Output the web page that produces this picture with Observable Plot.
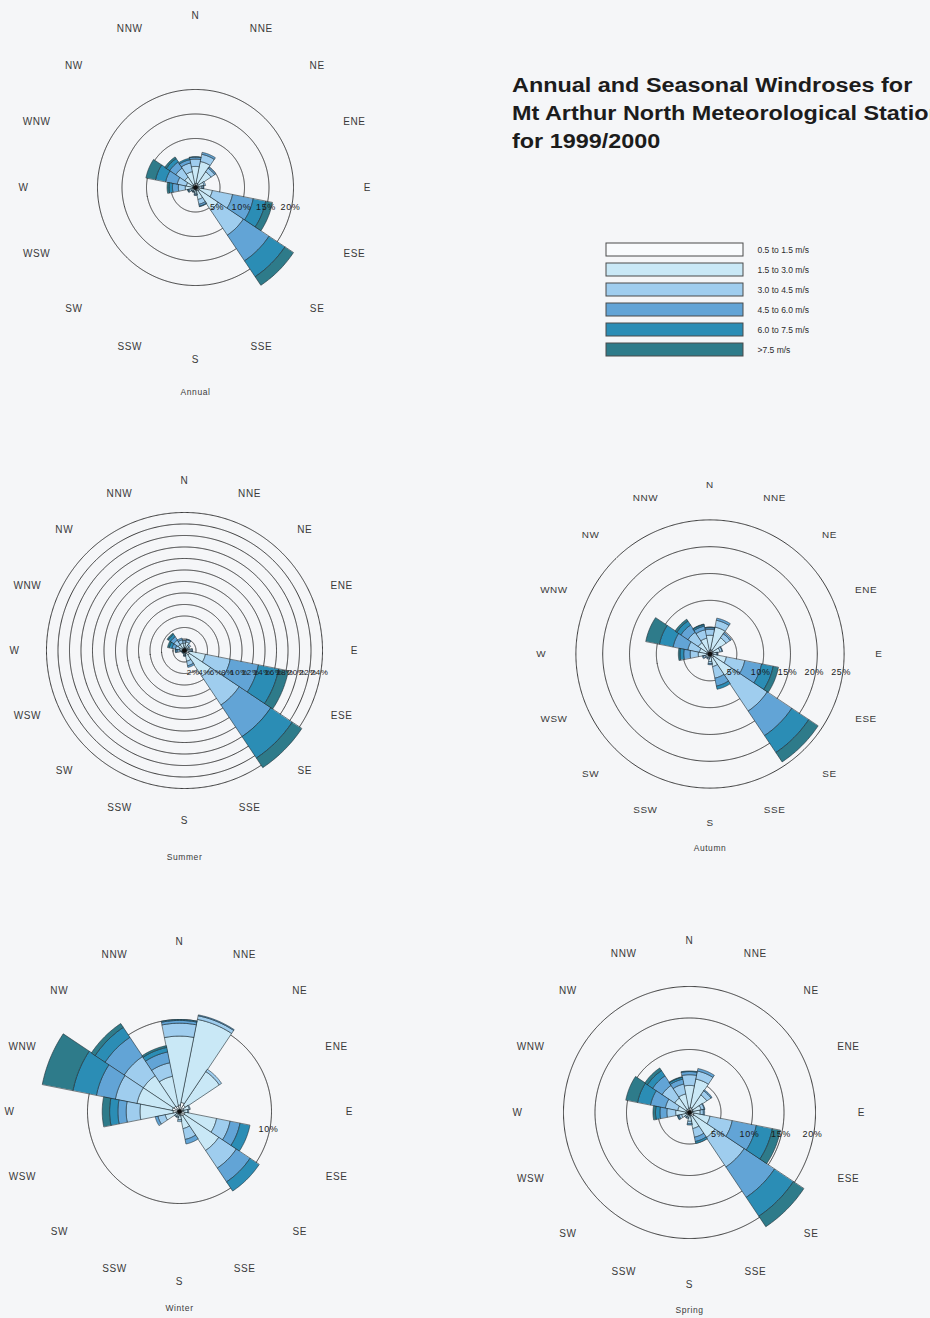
<!DOCTYPE html>
<html>
<head>
<meta charset="utf-8">
<script src="https://cdn.jsdelivr.net/npm/d3@7"></script>
<script src="https://cdn.jsdelivr.net/npm/@observablehq/plot@0.6"></script>
<style>
  html, body { margin: 0; padding: 0; background: #f5f6f8; }
  #page { position: relative; width: 930px; height: 1318px; overflow: hidden; font-family: "Liberation Sans", Arial, sans-serif; }
  .slot { position: absolute; }
  #title { position: absolute; left: 512px; top: 71px; font-size: 20px; line-height: 28px; font-weight: bold; color: #1c1c1c; white-space: nowrap; transform: scaleX(1.17); transform-origin: 0 0; }
</style>
</head>
<body>
<div id="page">
  <div id="title">Annual and Seasonal Windroses for<br>Mt Arthur North Meteorological Station<br>for 1999/2000</div>
</div>
<script>
// ---------- data ----------
const directions = ["N","NNE","NE","ENE","E","ESE","SE","SSE","S","SSW","SW","WSW","W","WNW","NW","NNW"];
const speedClasses = ["0.5 to 1.5 m/s","1.5 to 3.0 m/s","3.0 to 4.5 m/s","4.5 to 6.0 m/s","6.0 to 7.5 m/s",">7.5 m/s"];
const classColors = ["#f9fbfd","#c9e8f6","#9fcdee","#62a4d6","#2b8db5","#2e7b8a"];

// percent frequency per direction (rows N..NNW), per speed class (columns)
const annual = [
  [0.8,3.5,1.5,0.4,0.1,0],
  [0.9,4.5,1.5,0.4,0,0],
  [0.8,3.0,0.9,0.3,0,0],
  [0.6,1.2,0.3,0,0,0],
  [0.5,0.8,0.3,0.1,0,0],
  [0.7,2.8,4.2,4.3,2.6,1.4],
  [0.9,4.6,6.2,6.3,3.9,2.1],
  [0.7,1.8,1.0,0.4,0.1,0],
  [0.5,0.7,0.3,0.1,0,0],
  [0.4,0.5,0.2,0,0,0],
  [0.4,0.4,0.2,0.1,0,0],
  [0.4,0.6,0.4,0.2,0.1,0],
  [0.6,1.5,1.4,1.2,0.7,0.4],
  [0.5,1.4,1.9,2.4,2.1,2.0],
  [0.6,2.0,2.2,1.5,0.8,0.4],
  [0.7,2.6,1.8,0.7,0.3,0]
];
const summer = [
  [0.5,0.8,0.4,0.1,0,0],
  [0.5,1.0,0.4,0.1,0,0],
  [0.4,0.6,0.3,0,0,0],
  [0.3,0.4,0.2,0,0,0],
  [0.4,0.6,0.3,0.1,0,0],
  [0.8,2.9,4.4,5.0,3.6,1.7],
  [1.0,4.4,6.0,6.6,4.5,2.0],
  [0.6,1.3,0.8,0.3,0,0],
  [0.3,0.4,0.2,0.1,0,0],
  [0.2,0.3,0.1,0,0,0],
  [0.2,0.2,0.1,0,0,0],
  [0.2,0.2,0.1,0.1,0,0],
  [0.3,0.5,0.4,0.3,0.1,0],
  [0.3,0.6,0.7,0.6,0.5,0.3],
  [0.4,0.9,0.9,0.7,0.5,0.2],
  [0.4,0.9,0.6,0.3,0,0]
];
const autumn = [
  [0.7,2.8,1.1,0.3,0.1,0],
  [0.8,4.3,1.3,0.4,0,0],
  [0.7,2.9,0.9,0.3,0,0],
  [0.6,1.3,0.4,0.1,0,0],
  [0.5,0.7,0.2,0.1,0,0],
  [0.6,2.5,3.5,3.2,2.2,1.0],
  [0.8,4.0,8.0,5.5,3.8,2.1],
  [0.6,1.8,2.2,1.5,0.6,0],
  [0.5,0.9,0.4,0.2,0,0],
  [0.4,0.4,0.2,0,0,0],
  [0.4,0.4,0.2,0,0,0],
  [0.4,0.6,0.3,0.2,0,0],
  [0.6,1.6,1.5,1.2,0.7,0.3],
  [0.5,1.5,2.2,2.8,2.6,2.6],
  [0.6,2.0,2.3,1.6,0.9,0.4],
  [0.6,2.4,1.6,0.7,0.3,0.1]
];
const winter = [
  [0.7,7.5,1.4,0.3,0.1,0],
  [1.0,9.2,0.4,0.1,0,0],
  [0.8,4.4,0.3,0,0,0],
  [0.5,0.6,0.1,0,0,0],
  [0.4,0.5,0.1,0,0,0],
  [0.6,3.5,1.5,1.1,1.1,0],
  [0.6,4.5,2.3,1.8,1.2,0],
  [0.5,1.4,1.2,0.5,0,0],
  [0.4,0.5,0.2,0,0,0],
  [0.3,0.3,0.1,0,0,0],
  [0.3,0.3,0.1,0,0,0],
  [0.4,1.2,0.8,0.3,0,0],
  [0.7,3.6,1.5,0.9,0.9,0.8],
  [0.8,3.9,2.4,2.1,2.6,3.4],
  [0.7,4.0,2.5,2.5,1.3,0.5],
  [0.6,3.3,1.5,1.2,0.5,0.2]
];
const spring = [
  [0.7,3.6,1.7,0.5,0.1,0],
  [0.8,4.6,1.3,0.4,0,0],
  [0.7,2.6,0.8,0.2,0,0],
  [0.6,1.3,0.5,0.1,0,0],
  [0.5,1.2,0.5,0.2,0,0],
  [0.7,2.6,3.6,3.9,2.6,1.3],
  [0.8,4.0,5.6,5.8,3.6,2.0],
  [0.6,2.0,1.4,0.7,0.3,0],
  [0.5,0.9,0.4,0.2,0,0],
  [0.4,0.4,0.2,0,0,0],
  [0.4,0.4,0.2,0,0,0],
  [0.5,0.8,0.4,0.2,0.1,0],
  [0.6,1.6,1.4,1.1,0.7,0.4],
  [0.5,1.4,2.0,2.4,2.1,1.9],
  [0.6,2.2,2.4,1.8,1.0,0.5],
  [0.6,2.4,1.6,0.8,0.3,0.1]
];
const annualRings = [5,10,15,20];
const summerRings = [2,4,6,8,10,12,14,16,18,20,22,24];
const autumnRings = [5,10,15,20,25];
const winterRings = [10];
const springRings = [5,10,15,20];
const captions = ["Annual","Summer","Autumn","Winter","Spring"];

// ---------- layout (positions / sizes) ----------
const HALF = 222;
const roses = [
  {caption: captions[0], data: annual, rings: annualRings, cx: 195, cy: 187, ppp: 4.9,  labelR: 172, capR: 205, ringDy: 20, ringFont: 9},
  {caption: captions[1], data: summer, rings: summerRings, cx: 184, cy: 650, ppp: 5.75, labelR: 170, capR: 207, ringDy: 22, ringFont: 8},
  {caption: captions[2], data: autumn, rings: autumnRings, cx: 711, cy: 655, ppp: 5.4,  labelR: 170, capR: 196, ringDy: 18, ringFont: 9},
  {caption: captions[3], data: winter, rings: winterRings, cx: 179, cy: 1111, ppp: 9.2, labelR: 170, capR: 197, ringDy: 18, ringFont: 9},
  {caption: captions[4], data: spring, rings: springRings, cx: 689, cy: 1112, ppp: 6.3, labelR: 172, capR: 198, ringDy: 22, ringFont: 9}
];

const lonOf = (bearing) => 180 - bearing;   // north-polar azimuthal: bearing clockwise from top

function wedgeGeometry(bearing, r0, r1) {
  const half = 11.25, steps = 24, outer = [], inner = [];
  for (let s = 0; s <= steps; s++) {
    const t = bearing - half + (2 * half * s) / steps;
    outer.push([lonOf(t), 90 - r1]);
    inner.push([lonOf(t), 90 - Math.max(r0, 0.001)]);
  }
  const ring = outer.concat(inner.reverse());
  ring.push(ring[0]);
  let geom = {type: "Polygon", coordinates: [ring]};
  if (d3.geoArea(geom) > 2 * Math.PI) geom = {type: "Polygon", coordinates: [ring.slice().reverse()]};
  return geom;
}

const page = document.getElementById("page");

for (const cfg of roses) {
  const wedges = [];
  directions.forEach((dir, i) => {
    let cum = 0;
    cfg.data[i].forEach((v, k) => {
      if (v > 0) {
        wedges.push({dir, cls: speedClasses[k], geometry: wedgeGeometry(i * 22.5, cum, cum + v)});
        cum += v;
      }
    });
  });
  const D = HALF / cfg.ppp;
  const chart = Plot.plot({
    width: 2 * HALF,
    height: 2 * HALF,
    margin: 0,
    style: {background: "transparent", overflow: "visible", fontFamily: "'Liberation Sans', Arial, sans-serif", letterSpacing: "0.6px"},
    projection: {
      type: "azimuthal-equidistant",
      rotate: [0, -90],
      domain: d3.geoCircle().center([0, 90]).radius(D)()
    },
    color: {domain: speedClasses, range: classColors},
    marks: [
      Plot.geo(cfg.rings, {
        geometry: (r) => d3.geoCircle().center([0, 90]).radius(r).precision(0.5)(),
        fill: "none", stroke: "#262626", strokeWidth: 0.9
      }),
      Plot.geo(wedges, {geometry: (d) => d.geometry, fill: (d) => d.cls, stroke: "#1d2b33", strokeWidth: 0.6}),
      Plot.dot([0], {x: () => 0, y: () => 90, r: 2.3, fill: "#111", stroke: "none"}),
      Plot.text(cfg.rings, {
        x: () => lonOf(90), y: (r) => 90 - r, text: (r) => r + "%",
        dy: cfg.ringDy, dx: -3, fontSize: cfg.ringFont, fill: "#1a1a1a"
      }),
      Plot.text(directions, {
        x: (d, i) => lonOf(i * 22.5), y: () => 90 - cfg.labelR / cfg.ppp,
        text: (d) => d, fontSize: 10, fill: "#3a3a3a"
      }),
      Plot.text([cfg.caption], {
        x: () => lonOf(180), y: () => 90 - cfg.capR / cfg.ppp,
        text: (d) => d, fontSize: 8.5, fill: "#3a3a3a"
      })
    ]
  });
  const slot = document.createElement("div");
  slot.className = "slot";
  slot.style.left = (cfg.cx - HALF) + "px";
  slot.style.top = (cfg.cy - HALF) + "px";
  slot.appendChild(chart);
  page.appendChild(slot);
}

// ---------- legend ----------
const legend = Plot.plot({
  width: 290,
  height: 128,
  marginTop: 0, marginBottom: 0, marginLeft: 0, marginRight: 153,
  style: {background: "transparent", overflow: "visible", fontFamily: "'Liberation Sans', Arial, sans-serif"},
  x: {domain: [0, 1], axis: null},
  y: {domain: speedClasses, padding: 0.37, axis: null},
  color: {domain: speedClasses, range: classColors},
  marks: [
    Plot.barX(speedClasses, {x1: () => 0, x2: () => 1, y: (d) => d, fill: (d) => d, stroke: "#4a4a4a", strokeWidth: 1}),
    Plot.text(speedClasses, {x: () => 1, y: (d) => d, text: (d) => d, dx: 14, textAnchor: "start", fontSize: 8.5, fill: "#2a2a2a"})
  ]
});
const lslot = document.createElement("div");
lslot.className = "slot";
lslot.style.left = "606px";
lslot.style.top = "234.6px";
lslot.appendChild(legend);
page.appendChild(lslot);
</script>
</body>
</html>
